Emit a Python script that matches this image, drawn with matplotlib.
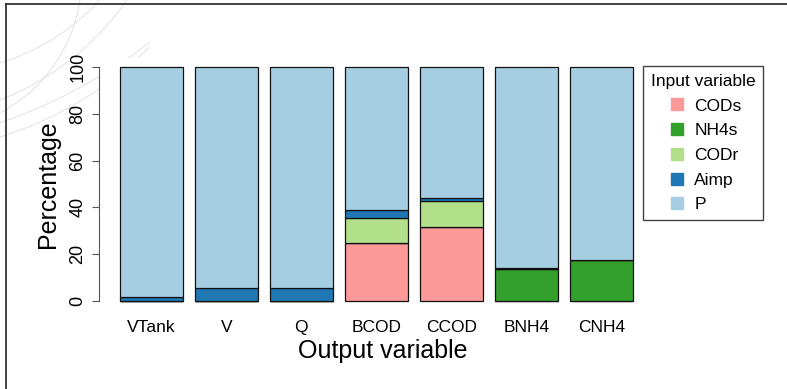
import matplotlib
matplotlib.use("Agg")
import matplotlib.pyplot as plt
import numpy as np
from matplotlib.lines import Line2D
from matplotlib.patches import Ellipse, Rectangle

plt.rcParams['font.family'] = ['Liberation Sans', 'DejaVu Sans']

# data (percent of each output explained by each input)
outputs = ["VTank", "V", "Q", "BCOD", "CCOD", "BNH4", "CNH4"]
inputs = ["CODs", "NH4s", "CODr", "Aimp", "P"]
cods = [0.0, 0.0, 0.0, 24.8, 31.6, 0.0, 0.0]
nh4s = [0.0, 0.0, 0.0, 0.0, 0.0, 13.7, 17.7]
codr = [0.0, 0.0, 0.0, 10.5, 11.0, 0.0, 0.0]
aimp = [1.8, 5.4, 5.4, 3.5, 1.5, 0.6, 0.0]
p_share = [100 - a - b - c - d for a, b, c, d in zip(cods, nh4s, codr, aimp)]
colors = ["#FB9A99", "#33A02C", "#B2DF8A", "#1F78B4", "#A6CEE3"]

W, H = 787, 389
fig = plt.figure(figsize=(W / 100, H / 100), dpi=100)

# faint decorative arcs in the top-left corner (circle through 3 pixel points)
clip = Rectangle((0, 1 - 140 / H), 150 / W, 140 / H, transform=fig.transFigure)
def arc_through(p1, p2, p3):
    (x1, y1), (x2, y2), (x3, y3) = p1, p2, p3
    a = np.array([[x2 - x1, y2 - y1], [x3 - x1, y3 - y1]], float)
    b = 0.5 * np.array([x2**2 - x1**2 + y2**2 - y1**2, x3**2 - x1**2 + y3**2 - y1**2])
    cx, cy = np.linalg.solve(a, b)
    r = np.hypot(x1 - cx, y1 - cy)
    e = Ellipse((cx / W, 1 - cy / H), 2 * r / W, 2 * r / H, transform=fig.transFigure,
                fill=False, edgecolor="#e2e2e2", lw=0.7, zorder=0)
    fig.add_artist(e)
    e.set_clip_path(clip)

arc_through((0, 63), (33, 50), (100, 0))
arc_through((0, 100), (90, 43), (127, 0))
arc_through((0, 113), (67, 43), (80, 0))
arc_through((0, 123), (45, 105), (110, 70))
arc_through((0, 137), (40, 122), (90, 95))

# frame around the figure (only top and left visible)
fig.add_artist(Line2D([6 / W, 1.0], [1 - 4 / H, 1 - 4 / H], transform=fig.transFigure, color="#333333", lw=1.3))
fig.add_artist(Line2D([6 / W, 6 / W], [0.0, 1 - 4 / H], transform=fig.transFigure, color="#333333", lw=1.3))

ax = fig.add_axes([99 / W, (H - 310.4) / H, (666 - 99) / W, (310.4 - 57.6) / H])
x = 0.7 + 1.2 * np.arange(len(outputs))
bottom = np.zeros(len(outputs))
for name, vals, col in zip(inputs, [cods, nh4s, codr, aimp, p_share], colors):
    ax.bar(x, vals, width=1.0, bottom=bottom, color=col, edgecolor="#111111", linewidth=0.9, label=name)
    bottom += np.array(vals)

ax.set_xlim(-0.136, 8.936)
ax.set_ylim(-4, 104)
for s in ["top", "right", "bottom"]:
    ax.spines[s].set_visible(False)
ax.spines["left"].set_bounds(0, 100)
ax.spines["left"].set_color("#555555")
ax.set_yticks(np.arange(0, 101, 20))
ax.tick_params(axis="y", length=5, color="#555555", pad=4, labelsize=13)
for t in ax.get_yticklabels():
    t.set_rotation(90)
    t.set_va("center")
ax.set_xticks(x)
ax.set_xticklabels(outputs)
ax.tick_params(axis="x", length=0, pad=7, labelsize=12.5)
ax.set_xlabel("Output variable", fontsize=18, labelpad=3)
ax.set_ylabel("Percentage", fontsize=18, labelpad=7)

handles = [Line2D([], [], marker="s", linestyle="none", markersize=8, markerfacecolor=c, markeredgecolor=c) for c in colors]
leg = fig.legend(handles, inputs, title="Input variable", loc="upper left",
                 bbox_to_anchor=(643 / W, 1 - 66 / H), borderaxespad=0, fontsize=12.5, title_fontsize=12.5,
                 frameon=True, fancybox=False, edgecolor="#444444", framealpha=1,
                 labelspacing=0.55, handletextpad=0.3, borderpad=0.45, handlelength=1.4)
leg.get_frame().set_linewidth(1.0)

fig.savefig("out.png", dpi=100)
